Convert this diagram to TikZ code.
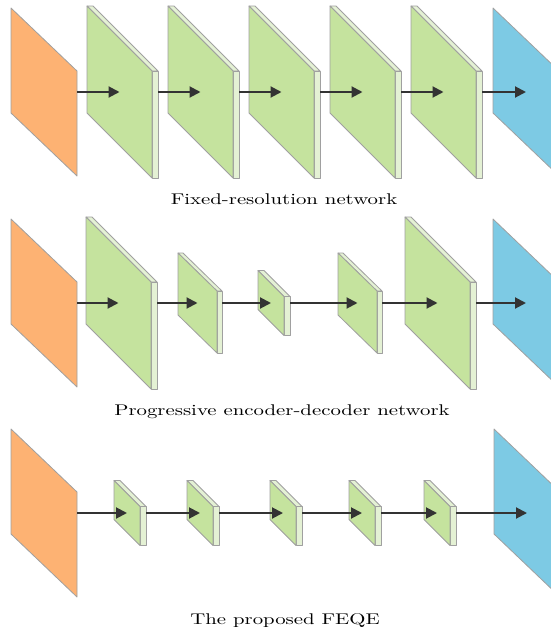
\documentclass[tikz,border=0pt]{standalone}
\usetikzlibrary{arrows.meta}
\definecolor{orangeA}{HTML}{FDB273}
\definecolor{greenA}{HTML}{C5E39E}
\definecolor{greenB}{HTML}{E4F1D4}
\definecolor{blueA}{HTML}{7DCAE4}
\definecolor{edgeA}{HTML}{A0A0A0}
\definecolor{arrowA}{HTML}{333333}
\tikzset{
  edgeline/.style={draw=edgeA, line width=0.8pt, line join=round},
  arr/.style={draw=arrowA, line width=2pt, -{Triangle[length=11pt,width=11pt]}},
  capt/.style={font=\fontsize{10}{12}\selectfont, xscale=2.08, yscale=1.55, anchor=base, inner sep=0pt},
  pics/plane/.style n args={4}{code={
    \path[edgeline, fill=#4] (0,{-(#3+#2)/2}) -- (#1,{-(#3+#2)/2+#2}) -- (#1,{(#3+#2)/2}) -- (0,{(#3+#2)/2-#2}) -- cycle;
    \coordinate (-in) at ({#1/2},0);
    \coordinate (-out) at (#1,0);
  }},
  pics/slab/.style n args={4}{code={
    \path[edgeline, fill=greenB] (0,{-(#3+#2)/2}) -- (#4,{-(#3+#2)/2}) -- ({#1+#4},{-(#3+#2)/2+#2}) -- (#1,{-(#3+#2)/2+#2}) -- cycle;
    \path[edgeline, fill=greenB] (#1,{-(#3+#2)/2+#2}) -- ({#1+#4},{-(#3+#2)/2+#2}) -- ({#1+#4},{(#3+#2)/2}) -- (#1,{(#3+#2)/2}) -- cycle;
    \path[edgeline, fill=greenA] (0,{-(#3+#2)/2}) -- (#1,{-(#3+#2)/2+#2}) -- (#1,{(#3+#2)/2}) -- (0,{(#3+#2)/2-#2}) -- cycle;
    \coordinate (-in) at ({#1/2},0);
    \coordinate (-out) at ({#1+#4},0);
  }},
  pics/big/.style={/tikz/pics/slab={65}{65}{107}{6}},
  pics/mid/.style={/tikz/pics/slab={39}{38}{62}{5}},
  pics/small/.style={/tikz/pics/slab={26}{26}{39}{6}},
  pics/inplane/.style={/tikz/pics/plane={66}{63}{105}{orangeA}},
  pics/outplane/.style={/tikz/pics/plane={66}{63}{105}{blueA}},
}
\begin{document}
\begin{tikzpicture}[x=1pt,y=-1pt]
\useasboundingbox (0,0) rectangle (551,630);
\clip (0,0) rectangle (551,630);
\fill[white] (0,0) rectangle (551,630);
% Row 1
\pic (a0) at (11,92) {inplane};
\pic (a1) at (87,92) {big};
\pic (a2) at (168,92) {big};
\pic (a3) at (249,92) {big};
\pic (a4) at (330,92) {big};
\pic (a5) at (411,92) {big};
\pic (a6) at (493,92) {outplane};
\draw[arr] (a0-out) -- (a1-in);
\draw[arr] (a1-out) -- (a2-in);
\draw[arr] (a2-out) -- (a3-in);
\draw[arr] (a3-out) -- (a4-in);
\draw[arr] (a4-out) -- (a5-in);
\draw[arr] (a5-out) -- (a6-in);
\node[capt] (capA) at (284,204) {Fixed-resolution network};
% Row 2
\pic (b0) at (11,303) {inplane};
\pic (b1) at (86,303) {big};
\pic (b2) at (178,303) {mid};
\pic (b3) at (258,303) {small};
\pic (b4) at (338,303) {mid};
\pic (b5) at (405,303) {big};
\pic (b6) at (493,303) {outplane};
\draw[arr] (b0-out) -- (b1-in);
\draw[arr] (b1-out) -- (b2-in);
\draw[arr] (b2-out) -- (b3-in);
\draw[arr] (b3-out) -- (b4-in);
\draw[arr] (b4-out) -- (b5-in);
\draw[arr] (b5-out) -- (b6-in);
\node[capt] (capB) at (282,415) {Progressive encoder-decoder network};
% Row 3
\pic (c0) at (11,513) {inplane};
\pic (c1) at (114,513) {small};
\pic (c2) at (187,513) {small};
\pic (c3) at (270,513) {small};
\pic (c4) at (349,513) {small};
\pic (c5) at (424,513) {small};
\pic (c6) at (494,513) {outplane};
\draw[arr] (c0-out) -- (c1-in);
\draw[arr] (c1-out) -- (c2-in);
\draw[arr] (c2-out) -- (c3-in);
\draw[arr] (c3-out) -- (c4-in);
\draw[arr] (c4-out) -- (c5-in);
\draw[arr] (c5-out) -- (c6-in);
\node[capt] (capC) at (285,624) {The proposed FEQE};
\end{tikzpicture}
\end{document}
